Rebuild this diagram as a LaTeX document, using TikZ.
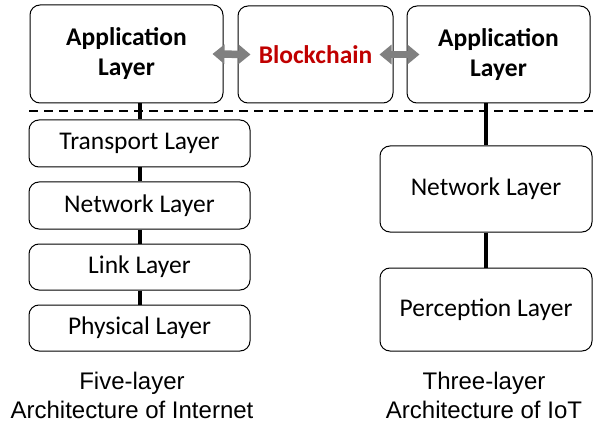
\documentclass[tikz,border=0pt]{standalone}
\usepackage{fontspec}
\setmainfont{Carlito}
\newfontfamily\capfont{Liberation Sans}
\usetikzlibrary{arrows.meta}
\definecolor{chainred}{RGB}{192,0,0}
\definecolor{arrowgray}{RGB}{128,128,128}

\begin{document}
\begin{tikzpicture}[x=1pt,y=-1pt,
    layerbox/.style={draw=black, line width=1pt, rounded corners=10pt, align=center,
        font=\fontsize{25.5}{30}\selectfont, inner sep=0pt},
    toplayer/.style={layerbox, font=\fontsize{25.5}{30}\selectfont\bfseries},
    linkline/.style={black, line width=4pt},
    bothways/.style={arrowgray, line width=7.5pt,
        {Triangle[length=12pt,width=19pt]}-{Triangle[length=12pt,width=19pt]}},
    caption/.style={align=center, font=\capfont\fontsize{24}{29}\selectfont}]
    \useasboundingbox (0,0) rectangle (594,422);

        \node[toplayer, minimum width=193pt, minimum height=98pt] (appL) at (126.5,54) {Application\\Layer};
        \node[toplayer, minimum width=155pt, minimum height=97pt, text=chainred] (chain) at (315.5,54.5) {Blockchain};
        \node[toplayer, minimum width=183pt, minimum height=97pt] (appR) at (498.5,54.5) {Application\\Layer};

        \node[layerbox, minimum width=221pt, minimum height=47pt] (trans) at (139.5,143.5) {Transport Layer};
        \node[layerbox, minimum width=221pt, minimum height=47pt] (netL) at (139.5,205.5) {Network Layer};
        \node[layerbox, minimum width=221pt, minimum height=46pt] (link) at (139.5,267) {Link Layer};
        \node[layerbox, minimum width=221pt, minimum height=46pt] (phys) at (139.5,328) {Physical Layer};

        \node[layerbox, minimum width=212pt, minimum height=86pt] (netR) at (486,189) {Network Layer};
        \node[layerbox, minimum width=212pt, minimum height=83pt] (perc) at (486,309.5) {Perception Layer};

        \node[caption] (capL) at (132,395) {Five-layer\\Architecture of Internet};
        \node[caption] (capR) at (484,395) {Three-layer\\Architecture of IoT};

        \coordinate (dashL) at (29,111);
        \coordinate (dashR) at (594,111);

        % dashed divider
        \draw [black, line width=1.5pt, dash pattern=on 9pt off 6pt] (dashL) -- (dashR);

        \draw [linkline] (trans.north |- appL.south) -- (trans.north);
        \draw [linkline] (trans) -- (netL);
        \draw [linkline] (netL) -- (link);
        \draw [linkline] (link) -- (phys);

        \draw [linkline] (netR.north |- appR.south) -- (netR.north);
        \draw [linkline] (netR) -- (perc);

        \draw [bothways] ([xshift=-11pt]appL.east) -- ([xshift=13pt]chain.west);
        \draw [bothways] ([xshift=-14pt]chain.east) -- ([xshift=13pt]appR.west);

    \end{tikzpicture}
\end{document}
